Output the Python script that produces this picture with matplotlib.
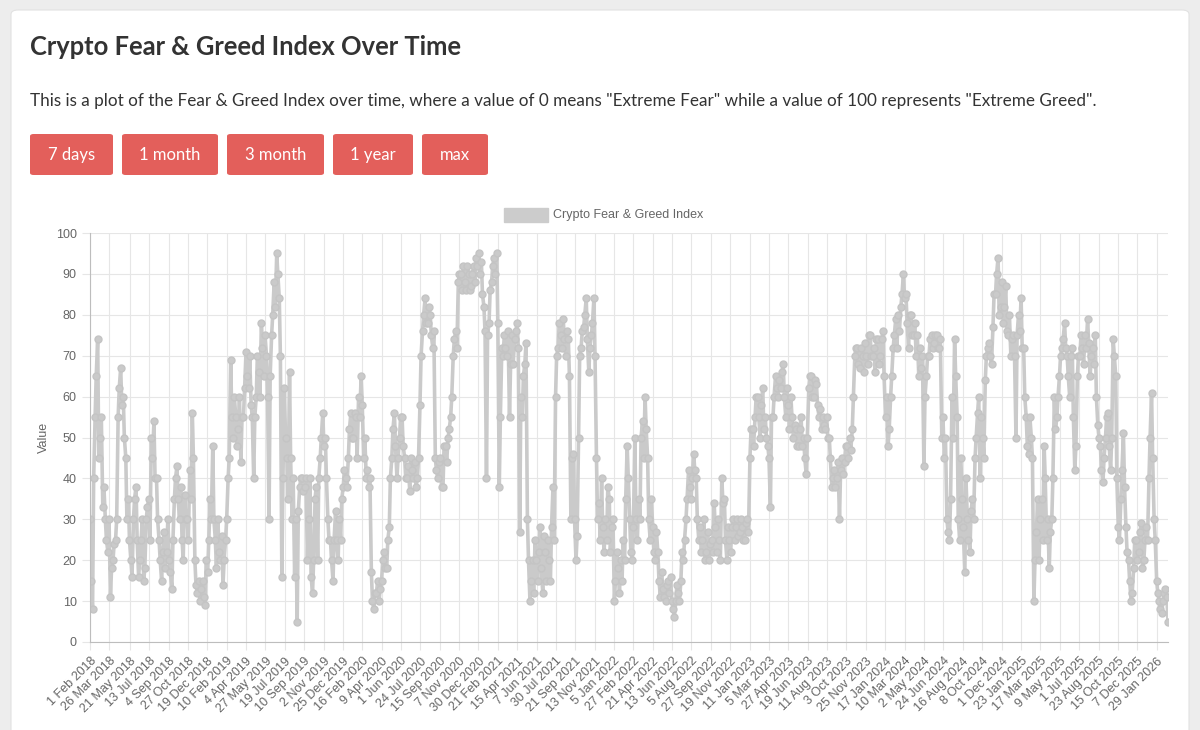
import matplotlib
matplotlib.use("Agg")
import matplotlib.pyplot as plt
from matplotlib.patches import FancyBboxPatch, Rectangle
import pandas as pd

# Fear & Greed readings: v = start of each 7-day step from 1 Feb 2018,
# m = a reading three days later in the same week
v2018 = [30, 8, 55, 74,
         50, 33, 30, 22, 11,
         20, 25, 55, 67,
         60, 45, 35, 20, 30,
         38, 16, 25, 15,
         30, 35, 50, 54,
         40, 25, 15, 27, 22,
         20, 13, 35, 43,
         30, 25, 36, 30,
         42, 56, 20, 12, 10,
         15, 9, 17, 35]
m2018 = [15, 40, 65, 45,
         55, 38, 25, 30, 18,
         24, 30, 62, 58,
         50, 30, 25, 16, 35,
         25, 20, 30, 18,
         33, 25, 45, 40,
         30, 20, 22, 18, 30,
         17, 25, 40, 35,
         38, 20, 30, 25,
         35, 45, 14, 15, 13,
         11, 20, 25, 30]
v2019 = [48, 25, 30, 20, 14,
         25, 40, 69, 50,
         55, 52, 44, 55,
         71, 62, 58, 40,
         60, 66, 78, 65, 70,
         30, 75, 88, 95,
         84, 16, 62, 45,
         66, 30, 16, 5, 38,
         40, 38, 20, 40,
         12, 35, 20, 45, 56,
         50, 30, 25, 15,
         32, 20, 25, 38]
m2019 = [30, 18, 22, 26, 20,
         30, 45, 55, 60,
         48, 60, 55, 62,
         65, 70, 55, 55,
         70, 60, 72, 75, 60,
         65, 80, 82, 90,
         70, 40, 50, 35,
         45, 40, 30, 32, 40,
         37, 40, 30, 16,
         20, 38, 40, 50, 48,
         40, 25, 20, 25,
         25, 30, 35, 42]
v2020 = [40, 45, 56, 50, 55,
         60, 65, 45, 40,
         38, 17, 8, 12,
         10, 15, 22, 18, 28,
         45, 56, 40, 50,
         55, 45, 40, 37,
         42, 44, 40, 58, 76,
         84, 78, 80, 72,
         45, 40, 45, 38,
         48, 50, 55, 70, 76,
         88, 90, 92, 86,
         90, 87, 92, 94, 95]
m2020 = [38, 52, 50, 56, 45,
         55, 58, 50, 42,
         40, 10, 12, 15,
         13, 20, 18, 25, 40,
         52, 48, 45, 55,
         48, 40, 43, 45,
         40, 38, 45, 70, 80,
         78, 82, 75, 76,
         42, 44, 38, 48,
         44, 52, 60, 74, 72,
         90, 86, 88, 92,
         86, 90, 88, 92, 90]
v2021 = [93, 82, 40, 78,
         88, 94, 95, 38,
         72, 75, 70, 55,
         75, 74, 78, 27, 55,
         68, 30, 10, 20,
         25, 15, 28, 12,
         22, 25, 15, 38, 60,
         72, 75, 79, 70,
         74, 30, 46, 20, 50,
         72, 77, 84, 66,
         75, 84, 45, 34,
         40, 22, 25, 35, 28]
m2021 = [85, 76, 75, 86,
         92, 90, 78, 55,
         70, 72, 76, 68,
         68, 76, 72, 60, 65,
         73, 20, 15, 12,
         20, 22, 18, 26,
         15, 20, 28, 25, 70,
         78, 72, 74, 76,
         65, 45, 30, 26, 70,
         76, 80, 74, 72,
         78, 70, 30, 25,
         28, 30, 38, 22, 30]
v2022 = [10, 22, 12, 15,
         20, 48, 30, 20,
         50, 25, 30, 54, 60,
         45, 25, 28, 20,
         22, 11, 13, 10,
         15, 16, 8, 10, 12,
         15, 20, 30, 42,
         35, 46, 40, 25,
         22, 30, 22, 20, 25,
         34, 22, 25, 40,
         35, 20, 25, 28,
         25, 30, 27, 28, 25]
m2022 = [15, 18, 20, 25,
         35, 40, 22, 28,
         30, 35, 50, 45, 52,
         30, 35, 22, 27,
         15, 17, 11, 14,
         12, 10, 6, 14, 10,
         22, 25, 35, 38,
         40, 42, 30, 28,
         25, 20, 27, 24, 22,
         28, 30, 20, 34,
         25, 28, 22, 30,
         28, 26, 30, 25, 29]
v2023 = [30, 45, 52, 55,
         60, 50, 62, 55,
         48, 33, 55, 65, 60,
         62, 68, 55, 58,
         60, 50, 52, 48,
         55, 50, 41, 62, 65,
         60, 63, 55, 52,
         53, 55, 50, 38, 42,
         40, 30, 45, 44,
         48, 50, 52, 70,
         72, 67, 70, 73, 68,
         75, 70, 66, 74]
m2023 = [27, 52, 48, 60,
         55, 58, 52, 50,
         45, 55, 60, 62, 64,
         66, 60, 62, 52,
         55, 53, 48, 52,
         48, 45, 50, 65, 60,
         64, 58, 57, 55,
         52, 50, 45, 40, 38,
         44, 42, 41, 48,
         45, 47, 60, 72,
         68, 72, 66, 70, 75,
         70, 72, 74, 68]
v2024 = [70, 76, 55, 48,
         60, 72, 79, 80, 82,
         90, 85, 72, 80,
         75, 70, 65, 67,
         43, 65, 70, 75, 73,
         75, 72, 50, 45,
         30, 25, 60, 74,
         55, 25, 35, 17, 30,
         22, 35, 45, 56,
         40, 50, 64, 72, 70,
         77, 85, 94, 82,
         78, 87, 75, 70]
m2024 = [74, 65, 60, 52,
         65, 75, 72, 76, 85,
         84, 78, 80, 75,
         78, 75, 72, 70,
         60, 70, 74, 72, 75,
         72, 74, 55, 50,
         27, 35, 50, 65,
         30, 45, 28, 40, 25,
         32, 30, 50, 60,
         55, 45, 70, 73, 68,
         85, 90, 80, 88,
         82, 76, 80, 74]
v2025 = [75, 50, 80, 84, 72,
         55, 46, 50, 10,
         27, 20, 35, 48,
         25, 18, 30, 60,
         55, 65, 72, 78, 70,
         60, 72, 42, 65,
         70, 72, 75, 79, 65,
         72, 75, 53, 48,
         39, 50, 56, 42,
         74, 65, 28, 35, 51,
         28, 20, 10, 18,
         25, 22, 29, 20]
m2025 = [70, 75, 76, 72, 60,
         48, 55, 45, 20,
         35, 30, 25, 40,
         30, 27, 40, 52,
         60, 70, 74, 72, 65,
         70, 55, 48, 70,
         75, 68, 72, 73, 70,
         68, 60, 50, 42,
         45, 55, 48, 50,
         70, 40, 25, 42, 38,
         22, 15, 12, 25,
         20, 27, 18, 25]
v2026 = [28, 40, 61, 30, 15,
         10, 7, 12, 11]
m2026 = [25, 50, 45, 25, 12,
         8, 10, 13, 5]

tick_labels = ["1 Feb 2018", "26 Mar 2018", "21 May 2018", "13 Jul 2018", "4 Sep 2018",
               "27 Oct 2018", "19 Dec 2018", "10 Feb 2019", "4 Apr 2019", "27 May 2019",
               "19 Jul 2019", "10 Sep 2019", "2 Nov 2019", "25 Dec 2019", "16 Feb 2020",
               "9 Apr 2020", "1 Jun 2020", "24 Jul 2020", "15 Sep 2020", "7 Nov 2020",
               "30 Dec 2020", "21 Feb 2021", "15 Apr 2021", "7 Jun 2021", "30 Jul 2021",
               "21 Sep 2021", "13 Nov 2021", "5 Jan 2022", "27 Feb 2022", "21 Apr 2022",
               "13 Jun 2022", "5 Aug 2022", "27 Sep 2022", "19 Nov 2022", "11 Jan 2023",
               "5 Mar 2023", "27 Apr 2023", "19 Jun 2023", "11 Aug 2023", "3 Oct 2023",
               "25 Nov 2023", "17 Jan 2024", "10 Mar 2024", "2 May 2024", "24 Jun 2024",
               "16 Aug 2024", "8 Oct 2024", "1 Dec 2024", "23 Jan 2025", "17 Mar 2025",
               "9 May 2025", "1 Jul 2025", "23 Aug 2025", "15 Oct 2025", "7 Dec 2025",
               "29 Jan 2026"]
buttons = ["7 days", "1 month", "3 month", "1 year", "max"]

# line the readings up with their dates, year by year
weekly = pd.date_range("2018-02-01", "2026-02-26", freq="7D")
years = range(2018, 2027)
starts = [v2018, v2019, v2020, v2021, v2022, v2023, v2024, v2025, v2026]
mids = [m2018, m2019, m2020, m2021, m2022, m2023, m2024, m2025, m2026]
dates, values = [], []
for yr, vs, ms in zip(years, starts, mids):
    d = weekly[weekly.year == yr]
    for day, a, b in zip(d, vs, ms):
        dates += [day, day + pd.Timedelta(days=3)]
        values += [a, b]

W, H = 1200, 730
fig = plt.figure(figsize=(W / 100, H / 100), dpi=100, facecolor="#ededed")


def fx(x):
    return x / W


def fy(y):
    return 1 - y / H


# white card, kept behind everything else
fig.patches.append(FancyBboxPatch((fx(11), fy(760)), fx(1178), 750 / H,
                                  boxstyle="round,pad=0,rounding_size=0.006",
                                  transform=fig.transFigure, facecolor="white",
                                  edgecolor="#e2e2e2", linewidth=0.8, zorder=-5))

fig.text(fx(30), fy(47), "Crypto Fear & Greed Index Over Time", fontsize=18.4,
         fontweight="bold", family="Lato", color="#333333", va="center")
fig.text(fx(30), fy(101), 'This is a plot of the Fear & Greed Index over time, where a value of 0 means '
         '"Extreme Fear" while a value of 100 represents "Extreme Greed".',
         fontsize=12.35, family="Lato", color="#333333", va="center")

# range buttons
bx = [30, 122, 227, 333, 422]
bw = [83, 96, 97, 80, 66]
for label, x0, w in zip(buttons, bx, bw):
    fig.patches.append(FancyBboxPatch((fx(x0), fy(175)), fx(w), 41 / H,
                                      boxstyle="round,pad=0,rounding_size=0.003",
                                      transform=fig.transFigure, facecolor="#e35f5b",
                                      edgecolor="none", zorder=-4))
    fig.text(fx(x0 + w / 2), fy(155), label, fontsize=12, family="Lato",
             color="white", ha="center", va="center")

# legend
fig.patches.append(Rectangle((fx(504), fy(222)), fx(44), 14 / H, transform=fig.transFigure,
                             facecolor="#cccccc", edgecolor="#cccccc", zorder=-4))
fig.text(fx(553), fy(215), "Crypto Fear & Greed Index", fontsize=9,
         family="Liberation Sans", color="#666666", va="center")

ax = fig.add_axes([fx(90), fy(642), fx(1168 - 90), (642 - 233) / H])
ax.set_facecolor("white")
ax.plot(dates, values, color="#cacaca", linewidth=2.6, marker="o",
        markersize=5, markerfacecolor="#cacaca", markeredgecolor="#c4c4c4",
        solid_joinstyle="round")

ax.set_xlim(dates[0], dates[-1])
ax.set_ylim(0, 100)
ax.set_yticks(range(0, 101, 10))
ticks = pd.to_datetime(tick_labels, format="%d %b %Y")
ax.set_xticks(ticks)
ax.set_xticklabels(tick_labels, rotation=45, ha="right", rotation_mode="anchor")
ax.grid(True, color="#e6e6e6", linewidth=0.8)
ax.set_axisbelow(True)
ax.tick_params(axis="both", colors="#e6e6e6", labelcolor="#666666", labelsize=9,
               length=6, width=0.8)
for lbl in ax.get_xticklabels() + ax.get_yticklabels():
    lbl.set_family("Liberation Sans")
for side in ["top", "right"]:
    ax.spines[side].set_visible(False)
for side in ["left", "bottom"]:
    ax.spines[side].set_color("#bdbdbd")
    ax.spines[side].set_linewidth(0.8)
ax.set_ylabel("Value", fontsize=9, color="#666666", family="Liberation Sans", labelpad=4)

fig.savefig("out.png", dpi=100, facecolor=fig.get_facecolor())
